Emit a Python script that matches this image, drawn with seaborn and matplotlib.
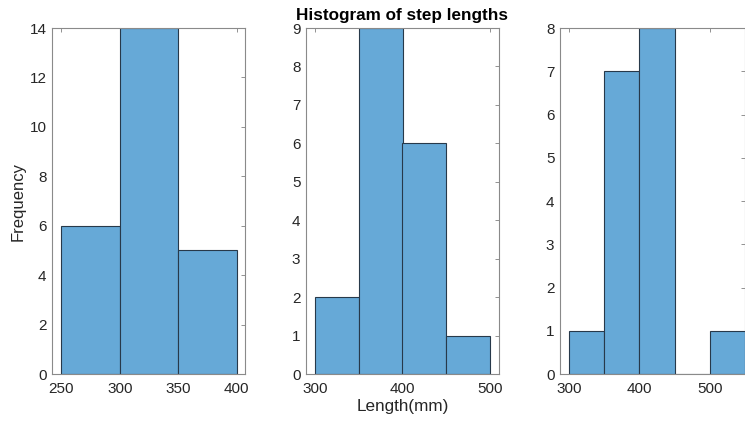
import numpy as np
import pandas as pd
import seaborn as sns
import matplotlib
matplotlib.use("Agg")
import matplotlib.pyplot as plt

# Data
edges_1 = [250, 300, 350, 400]
counts_1 = [6, 14, 5]
edges_2 = [300, 350, 400, 450, 500]
counts_2 = [2, 9, 6, 1]
edges_3 = [300, 350, 400, 450, 500, 550]
counts_3 = [1, 7, 8, 0, 1]

title = "Histogram of step lengths"
ylabel = "Frequency"
xlabel = "Length(mm)"

sns.set_theme(style="white")
plt.rcParams['font.family'] = ['Liberation Sans', 'DejaVu Sans']

face = '#66a9d7'
edge = '#27394a'
axcol = '#262626'

fig = plt.figure(figsize=(7.45, 4.23), dpi=100)
W, H = 745, 423
boxes = [(52, 245), (306, 499), (560, 745)]
top, bottom = 28, 374
datasets = [(edges_1, counts_1), (edges_2, counts_2), (edges_3, counts_3)]
xlims = [(242, 407), (290, 510), (287, 550)]
ylims = [(0, 14), (0, 9), (0, 8)]
yticks = [np.arange(0, 15, 2), np.arange(0, 10, 1), np.arange(0, 9, 1)]
xticks = [[250, 300, 350, 400], [300, 400, 500], [300, 400, 500]]

axes = []
for i, ((l, r), (edges, counts)) in enumerate(zip(boxes, datasets)):
    ax = fig.add_axes([l / W, 1 - bottom / H, (r - l) / W, (bottom - top) / H])
    centers = [(a + b) / 2 for a, b in zip(edges[:-1], edges[1:])]
    df = pd.DataFrame({"x": centers, "w": counts})
    sns.histplot(data=df, x="x", weights="w", bins=edges, ax=ax,
                 color=face, edgecolor=edge, linewidth=0.8, alpha=1.0)
    ax.set_xlim(*xlims[i])
    ax.set_ylim(*ylims[i])
    ax.set_yticks(yticks[i])
    ax.set_xticks(xticks[i])
    ax.tick_params(axis='both', direction='in', top=True, right=True, length=3, width=0.6,
                   colors='#808080', labelcolor=axcol, labelsize=11)
    ax.tick_params(axis='x', pad=6)
    ax.tick_params(axis='y', pad=4)
    for s in ax.spines.values():
        s.set_color('#8a8a8a')
        s.set_linewidth(0.8)
        s.set_zorder(10)
    ax.set_xlabel("")
    ax.set_ylabel("")
    axes.append(ax)

axes[0].set_ylabel(ylabel, fontsize=12, color=axcol, labelpad=3)
axes[1].set_xlabel(xlabel, fontsize=12.3, color=axcol, labelpad=2)
axes[1].set_title(title, fontsize=12.3, fontweight='bold', color='black', pad=6)

fig.savefig("out.png", dpi=100, facecolor='white')
